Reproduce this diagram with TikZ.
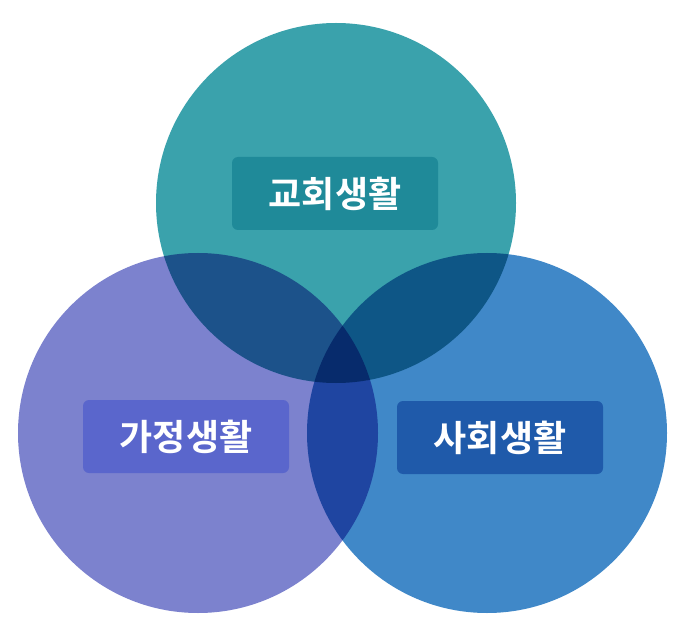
\documentclass[tikz,border=0pt]{standalone}
\usepackage{fontspec}
\newfontfamily\kr{Noto Sans CJK KR Bold}
\begin{document}
\begin{tikzpicture}[x=1pt,y=-1pt,
  circ/.style={blend mode=multiply},
  lbl/.style={rounded corners=6pt,minimum width=206pt,minimum height=73pt,text=white,font=\kr\fontsize{36}{40}\selectfont}]
\useasboundingbox (0,0) rectangle (685,636);
\definecolor{cTop}{RGB}{58,162,172}
\definecolor{cLeft}{RGB}{124,130,206}
\definecolor{cRight}{RGB}{64,136,200}
\definecolor{bTop}{RGB}{31,138,153}
\definecolor{bLeft}{RGB}{90,102,204}
\definecolor{bRight}{RGB}{31,90,170}
\begin{scope}[transparency group]
\fill[cTop,circ] (336,203) circle (180);
\fill[cLeft,circ] (198,433) circle (180);
\fill[cRight,circ] (487,433) circle (180);
\end{scope}
\node[lbl,fill=bTop] (top) at (335,193.5) {교회생활};
\node[lbl,fill=bLeft] (left) at (186,436.5) {가정생활};
\node[lbl,fill=bRight] (right) at (500,437.5) {사회생활};
\end{tikzpicture}
\end{document}
